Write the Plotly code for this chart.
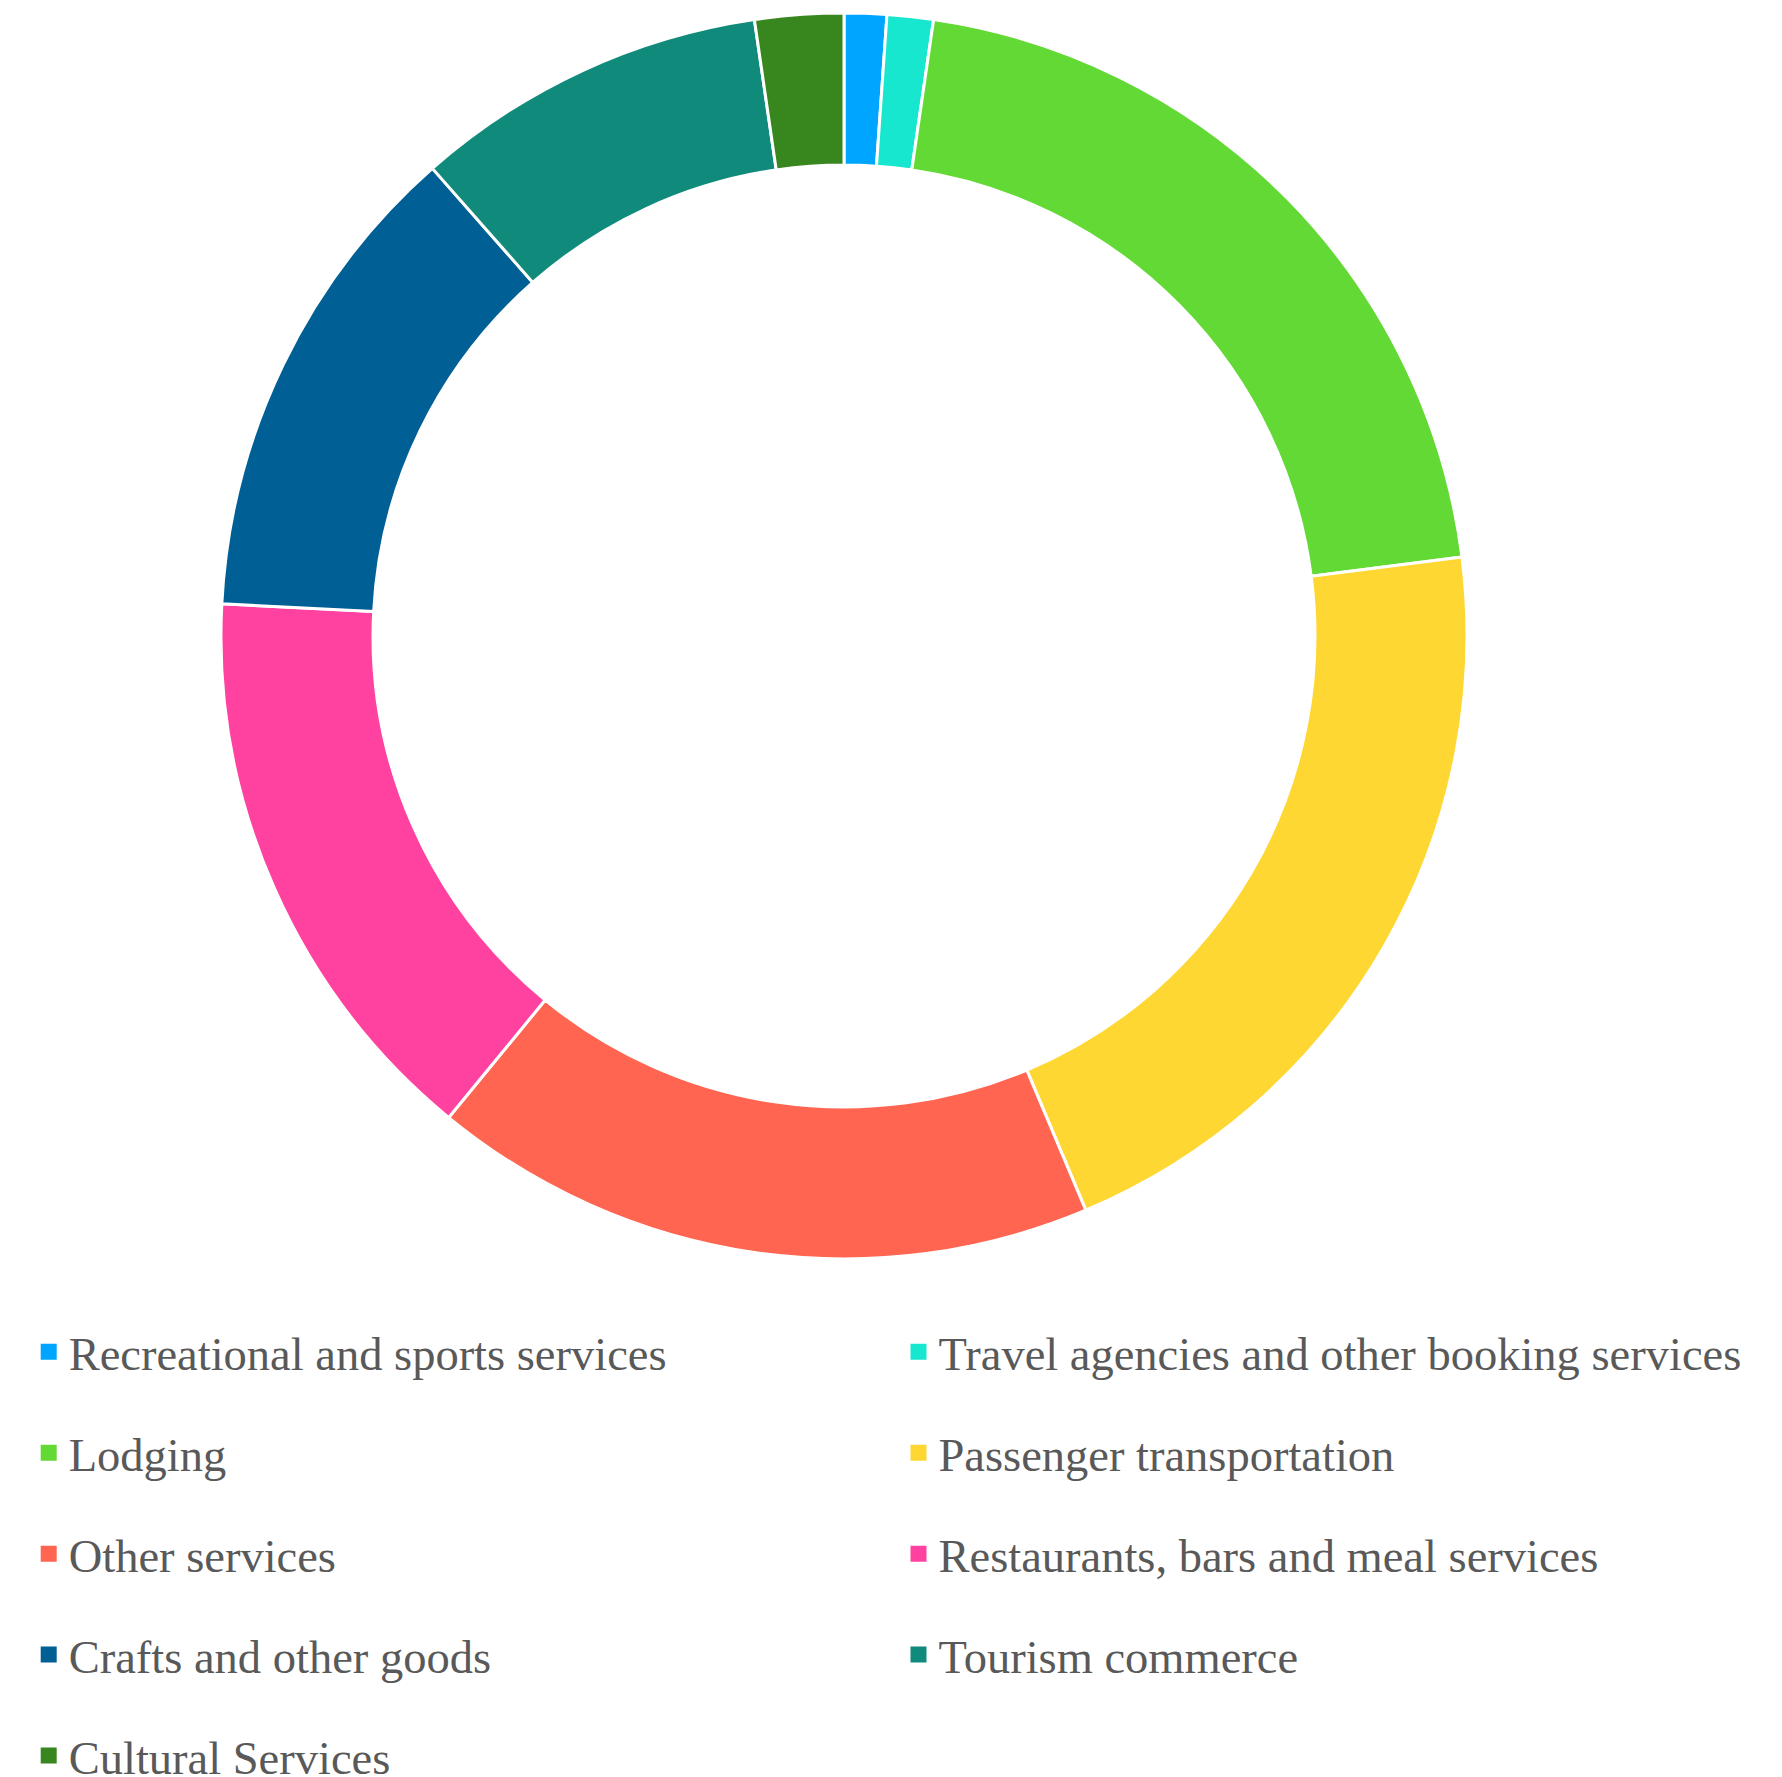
import plotly.graph_objects as go

labels = [
    "Recreational and sports services",
    "Travel agencies and other booking services",
    "Lodging",
    "Passenger transportation",
    "Other services",
    "Restaurants, bars and meal services",
    "Crafts and other goods",
    "Tourism commerce",
    "Cultural Services",
]
values = [1.1, 1.2, 20.7, 20.7, 17.3, 14.9, 12.7, 9.2, 2.3]
colors = [
    "#00A5FF", "#18E7CF", "#63D936", "#FFD732", "#FF6550",
    "#FF42A0", "#005F95", "#0F8A7B", "#38861E",
]

# page body has an 8px default margin: shrink the figure and shift layout
OFF = 8
W, H = 1782 - OFF, 1777 - OFF
cx, cy, R = 844 - OFF, 636 - OFF, 623

fig = go.Figure()
fig.add_trace(go.Pie(
    labels=labels, values=values, sort=False, direction="clockwise",
    rotation=0, hole=0.756, textinfo="none", showlegend=False,
    marker=dict(colors=colors, line=dict(color="white", width=3)),
    domain=dict(x=[(cx - R) / W, (cx + R) / W],
                y=[(H - (cy + R)) / H, (H - (cy - R)) / H]),
))

# legend entries (two columns, row-major order)
for i, (lab, col) in enumerate(zip(labels, colors)):
    fig.add_trace(go.Scatter(
        x=[None], y=[None], mode="markers", name=lab,
        marker=dict(symbol="square", size=16, color=col),
        legend="legend" if i % 2 == 0 else "legend2",
        legendgroup=f"g{i}", hoverinfo="skip",
    ))

fsize = 46.5
legfont = dict(family="Liberation Serif, Georgia, serif", size=fsize, color="#595959")
gap = 37.5
ytop = (H - (1315 - OFF)) / H
fig.update_layout(
    width=W, height=H,
    margin=dict(l=0, r=0, t=0, b=0, autoexpand=False),
    paper_bgcolor="white", plot_bgcolor="white",
    xaxis=dict(visible=False), yaxis=dict(visible=False),
    legend=dict(x=(28.7 - OFF) / W, y=ytop, xanchor="left", yanchor="top",
                orientation="v", traceorder="grouped", tracegroupgap=gap,
                font=legfont, bgcolor="rgba(0,0,0,0)"),
    legend2=dict(x=(898.5 - OFF) / W, y=ytop, xanchor="left", yanchor="top",
                 orientation="v", traceorder="grouped", tracegroupgap=gap,
                 font=legfont, bgcolor="rgba(0,0,0,0)"),
)

fig.write_html("out.html")
